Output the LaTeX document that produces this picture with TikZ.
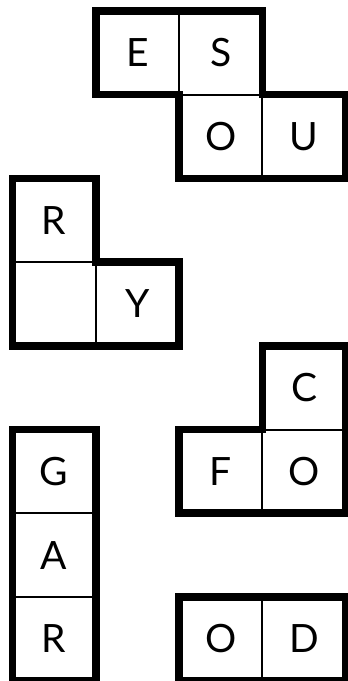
\documentclass[tikz,border=0pt]{standalone}
\usepackage{fontspec}
\setmainfont{Lato}
\begin{document}
\begin{tikzpicture}[x=41.65pt, y=-41.85pt,
  cell/.style={draw, line width=1pt, minimum width=41.65pt, minimum height=41.85pt,
    inner sep=0pt, outer sep=0pt, font=\fontsize{19.5}{19.5}\selectfont},
  piece/.style={line width=3.75pt}]

  \useasboundingbox (-0.150,-0.1314) rectangle (4.0276,8.0048);

  % piece 1: E S over O U
  \node[cell] (E1) at (1.5,0.5) {E};
  \node[cell] (S1) at (2.5,0.5) {S};
  \node[cell] (O1) at (2.5,1.5) {O};
  \node[cell] (U1) at (3.5,1.5) {U};
  \draw[piece] (E1.north west) -- (S1.north east) -- (U1.north west) -- (U1.north east)
    -- (U1.south east) -- (O1.south west) -- (O1.north west) -- (E1.south west) -- cycle;

  % piece 2: R, blank and Y
  \node[cell] (R2) at (0.5,2.5) {R};
  \node[cell] (B2) at (0.5,3.5) {};
  \node[cell] (Y2) at (1.5,3.5) {Y};
  \draw[piece] (R2.north west) -- (R2.north east) -- (Y2.north west) -- (Y2.north east)
    -- (Y2.south east) -- (B2.south west) -- cycle;

  % piece 3: C over O, F to the left
  \node[cell] (C3) at (3.5,4.5) {C};
  \node[cell] (F3) at (2.5,5.5) {F};
  \node[cell] (O3) at (3.5,5.5) {O};
  \draw[piece] (C3.north west) -- (C3.north east) -- (O3.south east) -- (F3.south west)
    -- (F3.north west) -- (C3.south west) -- cycle;

  % piece 4: column G A R
  \node[cell] (G4) at (0.5,5.5) {G};
  \node[cell] (A4) at (0.5,6.5) {A};
  \node[cell] (R4) at (0.5,7.5) {R};
  \draw[piece] (G4.north west) rectangle (R4.south east);

  % piece 5: row O D
  \node[cell] (O5) at (2.5,7.5) {O};
  \node[cell] (D5) at (3.5,7.5) {D};
  \draw[piece] (O5.north west) rectangle (D5.south east);
\end{tikzpicture}
\end{document}
